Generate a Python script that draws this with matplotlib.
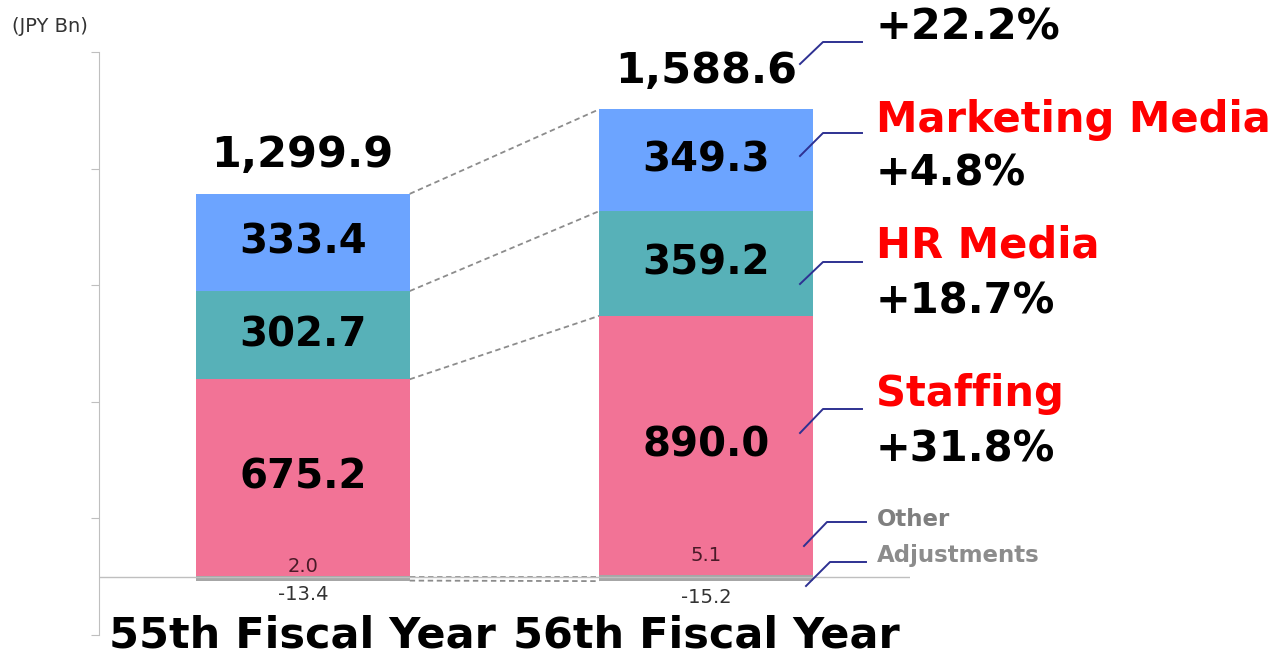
import numpy as np
import matplotlib
matplotlib.use('Agg')
import matplotlib.pyplot as plt
from matplotlib.lines import Line2D

# revenue by segment (JPY Bn)
years = ['55th Fiscal Year', '56th Fiscal Year']
other = np.array([2.0, 5.1])
staffing = np.array([675.2, 890.0])
hr_media = np.array([302.7, 359.2])
marketing = np.array([333.4, 349.3])
adjustments = np.array([-13.4, -15.2])
totals = ['1,299.9', '1,588.6']

# growth labels on the right
total_growth = '+22.2%'
seg_names = ['Marketing Media', 'HR Media', 'Staffing']
seg_growth = ['+4.8%', '+18.7%', '+31.8%']

W, H = 1279, 657
c_blue = '#6CA4FF'
c_teal = '#57B1B8'
c_pink = '#F27396'
c_grey = '#A6A6A6'
c_line = '#2E3192'

fig = plt.figure(figsize=(W / 100, H / 100), dpi=100)
ax = fig.add_axes([99 / W, (H - 635) / H, (910 - 99) / W, (635 - 52) / H])

x = np.arange(len(years))
w = 0.53

b1 = other
b2 = b1 + staffing
b3 = b2 + hr_media
b4 = b3 + marketing

ax.bar(x, other, w, color=c_grey, zorder=2)
ax.bar(x, staffing, w, bottom=b1, color=c_pink, zorder=2)
ax.bar(x, hr_media, w, bottom=b2, color=c_teal, zorder=2)
ax.bar(x, marketing, w, bottom=b3, color=c_blue, zorder=2)
ax.bar(x, adjustments, w, color=c_grey, zorder=2)

# dashed lines joining the two bars
for lev in [b4, b3, b2, np.zeros(2), adjustments]:
    ax.plot([x[0] + w / 2, x[1] - w / 2], [lev[0], lev[1]], ls=(0, (3, 2)),
            color='#8C8C8C', lw=1.3, zorder=1)

ax.axhline(0, color='#BFBFBF', lw=1, zorder=3)

# value labels
for i in range(2):
    ax.text(x[i], b1[i] + staffing[i] / 2, f'{staffing[i]:.1f}', ha='center', va='center',
            fontsize=29, fontweight='bold', zorder=4)
    ax.text(x[i], b2[i] + hr_media[i] / 2, f'{hr_media[i]:.1f}', ha='center', va='center',
            fontsize=29, fontweight='bold', zorder=4)
    ax.text(x[i], b3[i] + marketing[i] / 2, f'{marketing[i]:.1f}', ha='center', va='center',
            fontsize=29, fontweight='bold', zorder=4)
    ax.annotate(totals[i], (x[i], b4[i]), xytext=(0, 19), textcoords='offset points',
                ha='center', va='baseline', fontsize=31, fontweight='bold')
    ax.text(x[i], -203, years[i], ha='center', va='center', fontsize=31,
            fontweight='bold', clip_on=False)

ax.annotate(f'{other[0]:.1f}', (x[0], 0), xytext=(0, 3.5), textcoords='offset points',
            ha='center', va='baseline', fontsize=14, color='#4A1A28', zorder=4)
ax.annotate(f'{other[1]:.1f}', (x[1], 0), xytext=(0, 11), textcoords='offset points',
            ha='center', va='baseline', fontsize=14, color='#4A1A28', zorder=4)
ax.annotate(f'{adjustments[0]:.1f}', (x[0], 0), xytext=(0, -17), textcoords='offset points',
            ha='center', va='baseline', fontsize=14, color='#333333')
ax.annotate(f'{adjustments[1]:.1f}', (x[1], 0), xytext=(0, -19), textcoords='offset points',
            ha='center', va='baseline', fontsize=14, color='#333333')

ax.set_xlim(-0.505, 1.505)
ax.set_ylim(-200, 1800)
ax.set_yticks(np.arange(-200, 1801, 400))
ax.set_yticklabels([])
ax.set_xticks([])
for s in ['top', 'right', 'bottom']:
    ax.spines[s].set_visible(False)
ax.spines['left'].set_color('#BFBFBF')
ax.tick_params(axis='y', length=6, color='#BFBFBF', direction='out')

fig.text(12 / W, 1 - 32 / H, '(JPY Bn)', fontsize=14, color='#333333', va='baseline')


def fpx(px, py):
    return px / W, 1 - py / H


def connector(y0, y1, x0=800, x1=823, x2=862):
    xs, ys = zip(fpx(x0, y0), fpx(x1, y1), fpx(x2, y1))
    fig.add_artist(Line2D(xs, ys, color=c_line, lw=1.4))


# right-hand growth labels
connector(64, 42)
fig.text(*fpx(876, 40), total_growth, fontsize=31, fontweight='bold', va='baseline')

seg_y = [(156, 133, 132, 186), (284, 262, 258, 314), (433, 409, 406, 462)]
for name, g, (ys, ye, yn, yg) in zip(seg_names, seg_growth, seg_y):
    connector(ys, ye)
    fig.text(*fpx(876, yn), name, fontsize=30, fontweight='bold', color='#FF0000', va='baseline')
    fig.text(*fpx(876, yg), g, fontsize=30, fontweight='bold', va='baseline')

connector(546, 522, 804, 827, 866)
fig.text(*fpx(877, 526), 'Other', fontsize=16.5, fontweight='bold', color='#7F7F7F', va='baseline')
connector(586, 562, 806, 830, 866)
fig.text(*fpx(877, 562), 'Adjustments', fontsize=16.5, fontweight='bold', color='#8C8C8C', va='baseline')

fig.savefig('out.png', dpi=100)
